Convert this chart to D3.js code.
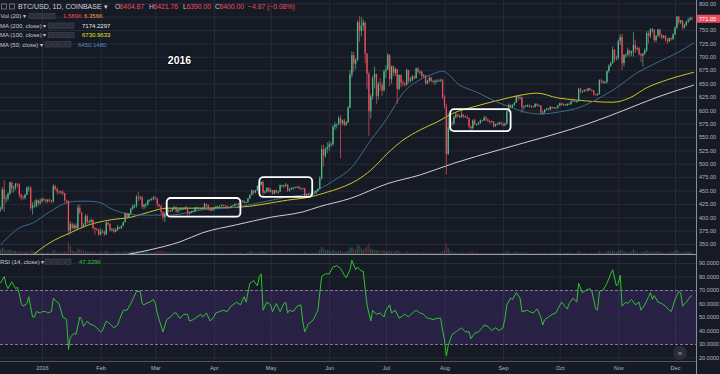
<!DOCTYPE html>
<html>
<head>
<meta charset="utf-8">
<script src="https://cdn.jsdelivr.net/npm/d3@7"></script>
<style>
html, body { margin: 0; padding: 0; background: #161a25; }
svg { display: block; }
text { font-family: "Liberation Sans", Arial, sans-serif; }
</style>
</head>
<body>
<div id="chart"></div>
<script>
// daily candles, first day = 10 Dec 2015, open = previous close
var firstOpen = 415;
var closes = [
    416, 452, 434, 435, 444, 465, 454, 456, 463, 462, 442, 437, 436, 442, 455, 455, 417, 422, 422, 432, 426, 430,
    434, 433, 430, 433, 431, 429, 458, 453, 448, 447, 448, 445, 432, 430, 375, 387, 380, 385, 379, 418, 409, 382, 386, 402, 391, 392, 395, 380, 378, 377, 368,
    373, 373, 368, 390, 387, 376, 377, 373, 376, 382, 379, 384, 391, 407, 400, 407, 416, 421, 421, 438, 437, 437, 420, 424, 424, 432, 433, 434, 437,
    435, 424, 421, 410, 400, 407, 413, 412, 412, 416, 419, 411, 414, 415, 416, 416, 418, 408, 409, 410, 411, 418, 418, 416, 417, 417, 425, 423, 416, 413, 416,
    417, 420, 420, 421, 423, 422, 421, 419, 418, 421, 422, 425, 424, 424, 430, 431, 427, 428, 435, 442, 450, 446, 450, 458, 461, 466, 446, 448, 455, 448,
    451, 444, 451, 446, 448, 460, 458, 459, 461, 450, 453, 455, 455, 456, 457, 454, 453, 454, 439, 442, 443, 439, 444, 445, 449, 453, 473, 527, 515, 528, 531,
    536, 537, 569, 573, 574, 585, 576, 581, 573, 577, 605, 667, 703, 687, 694, 765, 748, 758, 764, 706, 668, 598, 626, 660, 668, 627, 649, 647, 637, 673,
    676, 703, 658, 683, 670, 677, 640, 666, 652, 650, 648, 675, 655, 657, 663, 660, 678, 672, 672, 664, 665, 650, 655, 661, 655, 653, 655, 655, 656, 657, 624,
    607, 518, 568, 576, 575, 587, 592, 590, 587, 592, 589, 587, 585, 570, 567, 581, 574, 574, 576, 581, 581, 586, 583, 580, 578, 579, 570, 574, 574, 577, 575,
    572, 575, 598, 610, 606, 610, 614, 627, 623, 624, 606, 607, 609, 609, 607, 607, 606, 612, 609, 609, 596, 596, 601, 603, 601, 606, 604, 605, 605, 609,
    613, 610, 611, 609, 612, 612, 617, 618, 616, 617, 640, 636, 636, 638, 637, 641, 638, 637, 630, 629, 631, 656, 654, 651, 653, 673, 683, 688, 713, 697, 698,
    729, 737, 688, 703, 704, 712, 706, 709, 722, 715, 716, 705, 702, 706, 712, 744, 739, 751, 751, 731, 739, 751, 741, 736, 739, 732, 729, 735, 733, 742,
    754, 775, 764, 768, 755, 759, 766, 769, 772, 771
];
var highs = [
    420, 456, 469, 442, 447, 466, 467, 459, 464, 464, 463, 445, 441, 444, 458, 458, 458, 428, 431, 435, 433, 435,
    437, 436, 434, 434, 435, 432, 462, 460, 456, 450, 450, 450, 446, 433, 432, 392, 390, 388, 389, 423, 424, 410, 389, 406, 405, 395, 398, 396, 381, 380, 379,
    379, 377, 375, 392, 392, 389, 380, 380, 380, 386, 382, 385, 392, 409, 409, 408, 418, 424, 425, 441, 448, 440, 440, 425, 427, 433, 434, 437, 440,
    439, 437, 425, 423, 411, 409, 415, 415, 414, 418, 421, 420, 416, 418, 418, 418, 421, 419, 411, 412, 413, 419, 420, 419, 418, 419, 427, 426, 424, 417, 417,
    418, 421, 422, 422, 424, 424, 423, 422, 420, 422, 423, 426, 426, 427, 431, 432, 431, 429, 436, 443, 452, 451, 451, 460, 464, 468, 468, 450, 456, 456,
    454, 451, 451, 452, 449, 461, 461, 461, 464, 461, 454, 456, 457, 457, 458, 459, 456, 455, 455, 443, 444, 443, 445, 447, 450, 454, 477, 535, 536, 531, 540,
    542, 540, 573, 578, 575, 589, 591, 583, 584, 580, 608, 675, 710, 709, 698, 768, 776, 775, 770, 766, 707, 672, 630, 665, 682, 668, 653, 660, 653, 676,
    684, 707, 705, 683, 683, 680, 677, 667, 667, 656, 653, 678, 676, 662, 666, 665, 680, 681, 675, 674, 668, 666, 657, 664, 662, 657, 657, 658, 658, 659, 658,
    628, 612, 595, 580, 580, 590, 596, 594, 592, 598, 593, 590, 591, 586, 571, 583, 584, 575, 579, 583, 582, 590, 589, 584, 581, 581, 580, 575, 577, 579, 579,
    577, 577, 600, 613, 611, 611, 615, 628, 628, 628, 625, 609, 610, 611, 611, 609, 608, 613, 613, 611, 609, 599, 602, 604, 605, 608, 607, 606, 606, 610,
    614, 614, 613, 612, 613, 614, 618, 619, 618, 618, 642, 642, 637, 639, 640, 642, 642, 639, 638, 631, 632, 658, 659, 656, 655, 675, 686, 691, 719, 714, 702,
    732, 742, 743, 705, 706, 717, 713, 712, 746, 732, 719, 718, 707, 707, 716, 748, 748, 753, 754, 751, 740, 752, 752, 743, 740, 741, 735, 736, 736, 744,
    757, 776, 776, 769, 768, 762, 766, 772, 775, 775
];
var lows = [
    410, 414, 410, 427, 431, 441, 446, 446, 451, 456, 436, 431, 433, 433, 441, 448, 413, 405, 418, 418, 420, 423,
    428, 430, 426, 427, 428, 426, 428, 450, 443, 443, 443, 441, 428, 426, 366, 368, 377, 377, 376, 379, 406, 379, 380, 384, 388, 388, 389, 377, 367, 375, 365,
    366, 371, 365, 367, 384, 373, 374, 370, 372, 375, 378, 378, 383, 390, 398, 399, 406, 414, 417, 418, 430, 432, 416, 415, 418, 422, 429, 431, 432,
    433, 419, 418, 405, 394, 391, 406, 408, 410, 410, 414, 408, 408, 411, 413, 414, 414, 403, 404, 407, 409, 410, 414, 414, 414, 415, 416, 419, 413, 411, 412,
    412, 416, 418, 418, 420, 420, 420, 417, 416, 417, 420, 421, 422, 422, 423, 428, 426, 426, 427, 434, 441, 442, 445, 449, 455, 459, 437, 444, 446, 446,
    446, 442, 443, 445, 444, 447, 456, 455, 457, 447, 448, 451, 451, 454, 455, 452, 451, 452, 435, 437, 440, 436, 439, 443, 444, 447, 452, 470, 495, 511, 520,
    524, 532, 533, 563, 566, 572, 510, 572, 570, 571, 576, 604, 661, 672, 677, 692, 728, 738, 749, 688, 640, 552, 584, 620, 641, 612, 620, 636, 627, 635,
    660, 675, 645, 650, 664, 664, 612, 637, 643, 645, 644, 646, 650, 652, 654, 657, 659, 669, 667, 660, 662, 648, 649, 652, 652, 650, 647, 651, 653, 653, 621,
    603, 480, 517, 560, 570, 573, 585, 587, 585, 586, 585, 586, 584, 566, 561, 564, 572, 571, 572, 575, 579, 580, 580, 578, 575, 577, 568, 569, 572, 573, 572,
    570, 570, 573, 597, 603, 604, 608, 614, 618, 620, 595, 601, 606, 606, 605, 605, 605, 605, 607, 607, 592, 592, 595, 600, 600, 600, 603, 603, 603, 603,
    608, 608, 609, 608, 608, 610, 610, 616, 615, 614, 616, 631, 632, 634, 635, 635, 636, 635, 627, 627, 627, 629, 650, 650, 650, 650, 670, 681, 687, 690, 693,
    695, 722, 675, 682, 698, 700, 700, 701, 700, 707, 711, 702, 690, 682, 703, 709, 725, 735, 745, 727, 727, 737, 735, 732, 734, 728, 724, 727, 730, 731,
    740, 752, 760, 761, 750, 752, 757, 763, 767, 768
];
// volume, thousand BTC
var volumes = [
    9, 14, 11, 7, 8, 10, 9, 6, 7, 5, 6, 6, 5, 5, 6, 3, 9, 6, 5, 5, 5, 4,
    3, 3, 3, 4, 4, 3, 9, 7, 5, 4, 4, 5, 6, 5, 28, 18, 8, 6, 6, 12, 10, 9, 6, 6, 5, 5, 5, 5, 5, 3, 4,
    5, 4, 5, 8, 6, 4, 3, 4, 4, 5, 4, 4, 4, 6, 5, 4, 6, 6, 5, 8, 7, 5, 7, 5, 5, 5, 3, 3, 4,
    5, 6, 6, 7, 7, 5, 5, 4, 4, 4, 4, 3, 3, 4, 3, 3, 4, 5, 3, 3, 3, 3, 3, 3, 2, 2, 3, 3, 3, 3, 3,
    3, 2, 2, 3, 3, 3, 3, 3, 2, 2, 3, 3, 3, 3, 3, 2, 2, 3, 4, 5, 6, 4, 3, 4, 4, 5, 6, 4, 4, 3,
    3, 4, 3, 3, 3, 4, 3, 2, 3, 4, 3, 3, 3, 2, 2, 3, 3, 3, 5, 3, 2, 2, 3, 3, 3, 4, 9, 16, 12, 8, 9,
    7, 5, 9, 6, 5, 7, 8, 5, 5, 5, 7, 14, 15, 12, 9, 20, 18, 12, 9, 13, 17, 22, 12, 10, 8, 9, 8, 6, 7, 8,
    6, 6, 8, 6, 5, 6, 9, 6, 4, 3, 4, 6, 4, 3, 3, 3, 4, 4, 3, 4, 3, 4, 3, 3, 3, 3, 3, 3, 3, 3, 7,
    8, 24, 13, 6, 5, 4, 3, 3, 3, 4, 3, 3, 3, 4, 4, 4, 3, 3, 3, 2, 2, 3, 3, 3, 3, 3, 3, 2, 3, 3, 3,
    3, 3, 6, 5, 3, 3, 3, 5, 4, 3, 5, 4, 3, 3, 3, 2, 2, 2, 2, 3, 3, 3, 3, 2, 2, 3, 3, 3, 3, 3,
    3, 2, 2, 3, 3, 3, 3, 2, 2, 3, 6, 4, 3, 3, 2, 2, 3, 3, 3, 3, 3, 6, 4, 3, 3, 6, 7, 5, 8, 6, 5,
    8, 8, 10, 6, 4, 4, 5, 5, 10, 6, 4, 3, 4, 5, 5, 8, 5, 5, 4, 5, 5, 6, 5, 4, 3, 3, 3, 4, 4, 5,
    6, 9, 6, 3, 5, 5, 5, 5, 5, 3
];

// moving averages, [day, value]
var ma50 = [[0, 348], [10, 380], [17, 389], [26, 410], [35, 427], [41, 430], [47, 430], [53, 427], [58, 417], [65, 408],
    [74, 404], [90, 404], [107, 414], [125, 419], [137, 427], [152, 438], [164, 445], [171, 457], [178, 472], [185, 490],
    [196, 544], [205, 587], [213, 632], [222, 657], [229, 668], [234, 673], [243, 647], [252, 634], [263, 615], [270, 606],
    [277, 597], [286, 593], [296, 597], [307, 606], [317, 623], [326, 642], [337, 670], [348, 690], [358, 707], [367, 726]];
var ma100 = [[17, 329], [26, 352], [37, 371], [47, 386], [58, 395], [69, 400], [79, 410], [88, 417], [107, 417], [127, 419],
    [152, 432], [164, 438], [173, 447], [180, 455], [189, 470], [196, 488], [205, 520], [213, 544], [222, 563], [231, 578],
    [240, 595], [250, 606], [264, 619], [275, 628], [284, 632], [295, 623], [305, 619], [324, 615], [333, 623], [342, 642],
    [353, 657], [367, 671]];
var ma200 = [[65, 329], [79, 339], [95, 354], [107, 371], [125, 386], [143, 400], [160, 410], [169, 420], [185, 435],
    [205, 463], [222, 479], [240, 501], [264, 526], [277, 539], [295, 557], [312, 576], [330, 600], [348, 625], [367, 647]];

// RSI(14), [day, value]
var rsi14 = [[0, 75], [2, 80], [3, 74], [4, 71], [6, 76], [8, 71], [9, 72], [10, 67], [11, 60], [12, 58], [14, 60], [15, 65],
    [17, 50], [18, 50], [19, 54], [21, 53], [22, 54], [24, 54], [25, 53], [27, 54], [28, 64], [30, 61], [31, 60], [33, 50],
    [35, 48], [36, 26], [37, 35], [39, 38], [40, 37], [42, 50], [43, 48], [44, 43], [46, 47], [47, 45], [49, 44], [51, 42],
    [53, 39], [54, 40], [56, 47], [58, 45], [60, 42], [62, 44], [63, 48], [65, 55], [67, 55], [69, 60], [70, 63], [72, 69],
    [74, 69], [75, 60], [76, 59], [77, 60], [79, 61], [81, 63], [82, 60], [83, 53], [84, 48], [86, 39], [88, 48], [90, 50],
    [92, 53], [93, 53], [95, 49], [97, 52], [99, 52], [100, 47], [102, 48], [104, 50], [106, 52], [107, 50], [109, 53],
    [111, 47], [113, 50], [114, 53], [116, 54], [118, 55], [120, 54], [122, 58], [123, 59], [125, 61], [127, 59], [129, 65],
    [130, 61], [132, 75], [134, 77], [136, 73], [137, 80], [138, 82], [139, 55], [141, 61], [143, 59], [144, 54], [146, 60],
    [148, 54], [150, 60], [151, 61], [152, 53], [153, 55], [155, 54], [157, 58], [159, 59], [160, 47], [161, 39], [163, 45],
    [165, 47], [166, 49], [168, 55], [170, 80], [172, 82], [174, 82], [176, 87], [178, 88], [180, 86], [182, 81], [183, 79],
    [185, 85], [186, 92], [188, 85], [189, 87], [191, 84], [192, 84], [193, 71], [194, 59], [196, 47], [197, 55], [199, 52],
    [201, 53], [203, 50], [204, 55], [206, 59], [207, 53], [209, 55], [211, 49], [212, 50], [214, 52], [216, 50], [218, 53],
    [220, 55], [222, 53], [224, 52], [226, 49], [227, 49], [229, 48], [231, 49], [233, 49], [234, 40], [235, 33], [236, 21],
    [237, 29], [239, 37], [241, 39], [242, 40], [244, 42], [246, 39], [248, 39], [249, 34], [251, 38], [253, 39], [255, 42],
    [256, 44], [258, 43], [260, 40], [262, 42], [264, 40], [266, 42], [267, 49], [268, 59], [270, 64], [271, 63], [273, 68],
    [275, 64], [276, 54], [279, 55], [280, 54], [282, 53], [284, 56], [286, 50], [287, 44], [288, 48], [290, 50], [292, 52],
    [294, 53], [295, 56], [297, 61], [298, 59], [300, 56], [301, 60], [303, 64], [305, 61], [306, 75], [308, 68], [310, 70],
    [312, 71], [313, 69], [315, 56], [316, 55], [317, 69], [319, 70], [321, 75], [323, 82], [324, 85], [326, 73], [327, 75],
    [328, 81], [329, 58], [331, 61], [332, 60], [334, 63], [336, 59], [338, 61], [339, 55], [341, 59], [343, 65], [344, 68],
    [345, 63], [346, 66], [348, 61], [350, 60], [352, 58], [354, 55], [355, 54], [357, 63], [359, 69], [360, 68], [361, 58],
    [363, 61], [365, 65], [366, 66]];

var priceTicks = [350, 375, 400, 425, 450, 475, 500, 525, 550, 575, 600, 625, 650, 675, 700, 725, 750, 775, 800];
var rsiTicks = [20, 30, 40, 50, 60, 70, 80, 90];
var monthLabels = ["2016", "Feb", "Mar", "Apr", "May", "Jun", "Jul", "Aug", "Sep", "Oct", "Nov", "Dec"];
var lastPrice = 771.05;

// highlighted ranges: days and price span
var boxFrom = [88, 137, 238];
var boxTo = [127, 165, 270];
var boxLow = [401, 438, 561];
var boxHigh = [436, 475, 602];

var W = 720, H = 374;
var plotW = 696, priceBottom = 254, rsiBottom = 361;
var upColor = "#53b987", downColor = "#eb4d5c";
var axisColor = "#b2b5be", gridColor = "#262b38";

function dayDate(d) {
    return new Date(Date.UTC(2015, 11, 10 + d));
}

var svg = d3.select("#chart").append("svg")
    .attr("width", W)
    .attr("height", H);

svg.append("rect").attr("width", W).attr("height", H).attr("fill", "#161a25");

var defs = svg.append("defs");
defs.append("clipPath").attr("id", "clipPrice")
    .append("rect").attr("x", 0).attr("y", 0).attr("width", plotW).attr("height", priceBottom);
defs.append("clipPath").attr("id", "clipRsi")
    .append("rect").attr("x", 0).attr("y", priceBottom + 1).attr("width", plotW).attr("height", rsiBottom - priceBottom - 1);

var x = d3.scaleUtc()
    .domain([new Date(Date.UTC(2016, 0, 1)), new Date(Date.UTC(2016, 11, 1))])
    .range([42, 675]);
var yP = d3.scaleLinear().domain([350, 750]).range([244, 30]);
var yR = d3.scaleLinear().domain([20, 90]).range([357.5, 263]);
var yV = d3.scaleLinear().domain([0, 60]).range([priceBottom, priceBottom - 27]);

var months = d3.utcMonth.range(new Date(Date.UTC(2016, 0, 1)), new Date(Date.UTC(2016, 11, 2)));

//grid
function styleGrid(g) {
    g.select(".domain").remove();
    g.selectAll("line").attr("stroke", gridColor).attr("stroke-width", 1);
    g.selectAll("text").remove();
}

svg.append("g")
    .attr("transform", "translate(0," + rsiBottom + ")")
    .call(d3.axisBottom(x).tickValues(months).tickSize(-rsiBottom).tickFormat(""))
    .call(styleGrid);

svg.append("g")
    .call(d3.axisLeft(yP).tickValues(priceTicks).tickSize(-plotW).tickFormat(""))
    .call(styleGrid)
    .attr("clip-path", "url(#clipPrice)");

// RSI background band and grid
var rsiPane = svg.append("g").attr("clip-path", "url(#clipRsi)");
rsiPane.append("rect")
    .attr("x", 0).attr("width", plotW)
    .attr("y", yR(70)).attr("height", yR(30) - yR(70))
    .attr("fill", "rgba(120, 60, 200, 0.2)");
rsiPane.append("g")
    .call(d3.axisLeft(yR).tickValues([20, 40, 50, 60, 80, 90]).tickSize(-plotW).tickFormat(""))
    .call(styleGrid);
rsiPane.selectAll(".bound").data([70, 30]).enter()
    .append("line").attr("class", "bound")
    .attr("x1", 0).attr("x2", plotW)
    .attr("y1", function (d) { return yR(d) + 0.5; })
    .attr("y2", function (d) { return yR(d) + 0.5; })
    .attr("stroke", "#9893b0").attr("stroke-dasharray", "3,2").attr("stroke-width", 0.8);

// candles
var candles = closes.map(function (c, i) {
    var o = i === 0 ? firstOpen : closes[i - 1];
    return {
        date: dayDate(i), o: o, c: c,
        h: Math.max(highs[i], o, c), l: Math.min(lows[i], o, c), v: volumes[i]
    };
});
var bw = 1.3;
var pricePane = svg.append("g").attr("clip-path", "url(#clipPrice)");

pricePane.append("g").selectAll("rect").data(candles).enter().append("rect")
    .attr("x", function (d) { return x(d.date) - bw / 2; })
    .attr("y", function (d) { return yV(d.v); })
    .attr("width", bw)
    .attr("height", function (d) { return yV(0) - yV(d.v); })
    .attr("fill", function (d) { return d.c >= d.o ? upColor : downColor; })
    .attr("opacity", 0.35);

var lineGen = function (yScale) {
    return d3.line()
        .x(function (d) { return x(dayDate(d[0])); })
        .y(function (d) { return yScale(d[1]); })
        .curve(d3.curveMonotoneX);
};

pricePane.append("path").datum(ma200).attr("d", lineGen(yP))
    .attr("fill", "none").attr("stroke", "#cfcfcf").attr("stroke-width", 1);
pricePane.append("path").datum(ma100).attr("d", lineGen(yP))
    .attr("fill", "none").attr("stroke", "#cfc424").attr("stroke-width", 1);
pricePane.append("path").datum(ma50).attr("d", lineGen(yP))
    .attr("fill", "none").attr("stroke", "#3b6d8c").attr("stroke-width", 1);

var cg = pricePane.append("g").selectAll("g").data(candles).enter().append("g");
cg.append("line")
    .attr("x1", function (d) { return x(d.date); })
    .attr("x2", function (d) { return x(d.date); })
    .attr("y1", function (d) { return yP(d.h); })
    .attr("y2", function (d) { return yP(d.l); })
    .attr("stroke", function (d) { return d.c >= d.o ? upColor : downColor; })
    .attr("stroke-width", 0.7);
cg.append("rect")
    .attr("x", function (d) { return x(d.date) - bw / 2; })
    .attr("y", function (d) { return yP(Math.max(d.o, d.c)); })
    .attr("width", bw)
    .attr("height", function (d) { return Math.max(0.8, Math.abs(yP(d.o) - yP(d.c))); })
    .attr("fill", function (d) { return d.c >= d.o ? upColor : downColor; });

// highlight boxes
pricePane.selectAll(".hl").data(boxFrom).enter().append("rect")
    .attr("class", "hl")
    .attr("x", function (d) { return x(dayDate(d)); })
    .attr("y", function (d, i) { return yP(boxHigh[i]); })
    .attr("width", function (d, i) { return x(dayDate(boxTo[i])) - x(dayDate(d)); })
    .attr("height", function (d, i) { return yP(boxLow[i]) - yP(boxHigh[i]); })
    .attr("rx", 4).attr("ry", 4)
    .attr("fill", "none").attr("stroke", "#ffffff").attr("stroke-width", 1.8);

// RSI line
rsiPane.append("path").datum(rsi14)
    .attr("d", d3.line()
        .x(function (d) { return x(dayDate(d[0])); })
        .y(function (d) { return yR(d[1]); }))
    .attr("fill", "none").attr("stroke", "#2fc32f").attr("stroke-width", 1);

// pane borders
svg.append("line").attr("x1", 0).attr("x2", plotW).attr("y1", priceBottom + 0.5).attr("y2", priceBottom + 0.5)
    .attr("stroke", "#9a9da6").attr("stroke-width", 1);
svg.append("line").attr("x1", 0).attr("x2", plotW).attr("y1", rsiBottom + 0.5).attr("y2", rsiBottom + 0.5)
    .attr("stroke", "#50545f").attr("stroke-width", 1);
svg.append("line").attr("x1", plotW + 0.5).attr("x2", plotW + 0.5).attr("y1", 0).attr("y2", H)
    .attr("stroke", "#8a8d96").attr("stroke-width", 1);

// axes
function styleAxis(g) {
    g.select(".domain").remove();
    g.selectAll("line").remove();
    g.selectAll("text").attr("fill", axisColor).attr("font-size", 5.6)
        .attr("font-family", "'Liberation Sans', Arial, sans-serif");
}
// the tick hidden under the last price tag is not labelled
svg.append("g")
    .attr("transform", "translate(" + plotW + ",0)")
    .call(d3.axisRight(yP)
        .tickValues(priceTicks.filter(function (t) { return Math.abs(yP(t) - yP(lastPrice)) > 6; }))
        .tickSize(0).tickPadding(3).tickFormat(d3.format(".2f")))
    .call(styleAxis);
svg.append("g")
    .attr("transform", "translate(" + plotW + ",0)")
    .call(d3.axisRight(yR).tickValues(rsiTicks).tickSize(0).tickPadding(3).tickFormat(d3.format(".4f")))
    .call(styleAxis);
svg.append("g")
    .attr("transform", "translate(0," + (rsiBottom + 2) + ")")
    .call(d3.axisBottom(x).tickValues(months).tickSize(0).tickPadding(3)
        .tickFormat(function (d) { return monthLabels[d.getUTCMonth()]; }))
    .call(styleAxis);

// last price tag
var lp = svg.append("g").attr("transform", "translate(" + (plotW + 1) + "," + yP(lastPrice) + ")");
lp.append("rect").attr("x", 0).attr("y", -4).attr("width", 23).attr("height", 8).attr("fill", "#eb4d5c");
lp.append("text").attr("x", 2).attr("y", 2).attr("fill", "#ffffff").attr("font-size", 5.6).text(lastPrice.toFixed(2));

// year label
svg.append("text")
    .attr("x", 179.5).attr("y", 64)
    .attr("text-anchor", "middle")
    .attr("font-size", 10.5).attr("font-weight", "bold")
    .attr("fill", "#ffffff").attr("stroke", "#000000").attr("stroke-width", 1.2)
    .attr("paint-order", "stroke")
    .text("2016");

// legend header
function iconBoxes(x0, y0) {
    for (var k = 0; k < 4; k++) {
        svg.append("rect").attr("x", x0 + k * 6.8).attr("y", y0 - 2.8)
            .attr("width", 5.6).attr("height", 5.6)
            .attr("fill", "#2b2f3b").attr("stroke", "#454955").attr("stroke-width", 0.5);
    }
}
function label(xp, yp, txt, col, size) {
    svg.append("text").attr("x", xp).attr("y", yp).attr("fill", col)
        .attr("font-size", size || 6).text(txt);
}

svg.append("rect").attr("x", 1.5).attr("y", 4).attr("width", 5).attr("height", 5)
    .attr("fill", "none").attr("stroke", "#9ea1aa").attr("stroke-width", 0.6);
svg.append("rect").attr("x", 9.5).attr("y", 4).attr("width", 5).attr("height", 5)
    .attr("fill", "none").attr("stroke", "#9ea1aa").attr("stroke-width", 0.6);
label(18, 9.3, "BTC/USD, 1D, COINBASE \u25BE", "#d1d4dc", 7);
label(115, 9.3, "O", "#c3c6ce", 6.8);
label(119.6, 9.3, "6404.87", downColor, 6.8);
label(149, 9.3, "H", "#c3c6ce", 6.8);
label(153.5, 9.3, "6421.76", downColor, 6.8);
label(183, 9.3, "L", "#c3c6ce", 6.8);
label(186.5, 9.3, "6390.00", downColor, 6.8);
label(215, 9.3, "C", "#c3c6ce", 6.8);
label(219.5, 9.3, "6400.00", downColor, 6.8);
label(248, 9.3, "\u22124.87 (\u22120.08%)", downColor, 6.8);

label(0.5, 18.3, "Vol (20) \u25BE", "#c6c8cf");
iconBoxes(29, 16);
label(63, 18.3, "1.589K", downColor);
label(84, 18.3, "6.356K", "#f0a040");

label(0, 28, "MA (200, close) \u25BE", "#c6c8cf");
iconBoxes(48, 25.7);
label(82, 28, "7174.2297", "#e6e6e6");

label(0, 37.3, "MA (100, close) \u25BE", "#c6c8cf");
iconBoxes(48, 35);
label(82, 37.3, "6730.9633", "#e8e02a");

label(0, 46.6, "MA (50, close) \u25BE", "#c6c8cf");
iconBoxes(45, 44.3);
label(78, 46.6, "6450.1480", "#4f8fbf");

label(0, 264, "RSI (14, close) \u25BE", "#c6c8cf");
iconBoxes(45, 261.7);
label(79, 264, "47.3296", "#2fc32f");

// scroll to realtime button
svg.append("circle").attr("cx", 680).attr("cy", 353).attr("r", 7)
    .attr("fill", "#2a2e3a");
svg.append("text").attr("x", 680).attr("y", 355.6).attr("text-anchor", "middle")
    .attr("fill", "#a3a6af").attr("font-size", 8).text("\u00BB");
</script>
</body>
</html>
